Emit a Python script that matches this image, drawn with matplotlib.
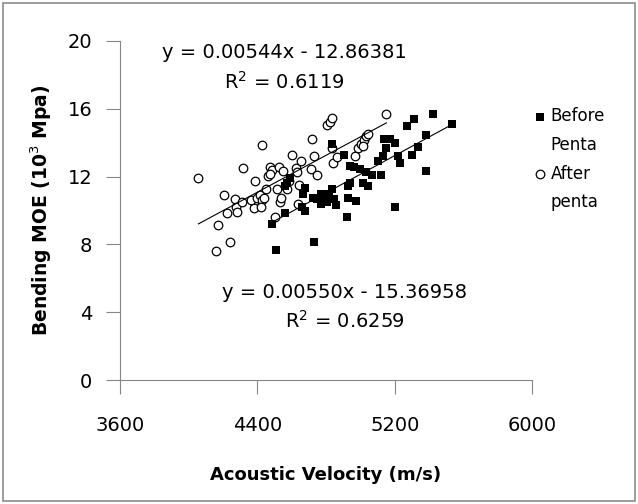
import matplotlib.pyplot as plt
from matplotlib.lines import Line2D
from matplotlib.patches import Rectangle
import numpy as np

plt.rcParams['font.family'] = ['DejaVu Sans']

# Before penta (filled squares)
before_velocity = [5424, 5311, 5270, 5531, 5382, 5334, 5299, 5382, 5140, 5175,
                   5152, 5199, 5133, 5105, 5222, 5229, 5122, 5199, 4832, 4903,
                   4939, 4962, 4998, 5033, 5069, 5017, 5045, 4927, 4939, 4927,
                   4974, 4922, 4832, 4820, 4796, 4773, 4749, 4726, 4773, 4808,
                   4844, 4856, 4678, 4666, 4659, 4678, 4560, 4488, 4507, 4730,
                   4571, 4588, 4560]
before_moe = [15.70, 15.38, 14.97, 15.07, 14.42, 13.76, 13.25, 12.33, 14.23, 14.23,
              13.70, 13.99, 13.21, 12.92, 13.21, 12.82, 12.09, 10.18, 13.89, 13.27,
              12.62, 12.58, 12.43, 12.29, 12.09, 11.59, 11.45, 11.45, 11.59, 10.76,
              10.57, 9.63, 11.25, 10.96, 10.76, 10.96, 10.70, 10.76, 10.37, 10.47,
              10.67, 10.31, 11.35, 10.96, 10.18, 9.98, 9.84, 9.20, 7.67, 8.16,
              11.64, 11.94, 11.45]

# After penta (open circles)
after_velocity = [4057, 4169, 4162, 4240, 4223, 4204, 4270, 4275, 4282, 4313,
                  4318, 4387, 4382, 4382, 4365, 4398, 4417, 4429, 4441, 4424,
                  4429, 4453, 4465, 4476, 4484, 4476, 4505, 4517, 4531, 4536,
                  4524, 4548, 4560, 4571, 4602, 4626, 4631, 4654, 4643, 4638,
                  4718, 4714, 4732, 4749, 4583, 4808, 4825, 4837, 4839, 4863,
                  4837, 4969, 4986, 5005, 5021, 5033, 5045, 5017, 5152]
after_moe = [11.94, 9.16, 7.63, 8.12, 9.82, 10.90, 10.70, 10.18, 9.88, 10.47,
             12.52, 11.74, 10.47, 10.12, 10.61, 10.76, 10.90, 10.61, 10.76, 10.23,
             13.86, 11.25, 12.04, 12.56, 12.37, 12.13, 9.63, 11.25, 10.47, 10.76,
             12.56, 12.33, 11.45, 11.25, 13.25, 12.52, 12.29, 12.92, 11.49, 10.37,
             14.19, 12.43, 13.21, 12.09, 11.74, 15.03, 15.23, 15.42, 12.82, 13.15,
             13.70, 13.21, 13.70, 13.93, 14.13, 14.38, 14.48, 13.78, 15.69]

before_fit = (0.00550, -15.36958)
after_fit = (0.00544, -12.86381)
before_eq = "y = 0.00550x - 15.36958\nR$^2$ = 0.6259"
after_eq = "y = 0.00544x - 12.86381\nR$^2$ = 0.6119"

fig = plt.figure(figsize=(6.38, 5.04), dpi=100)
ax = fig.add_axes([0.188, 0.246, 0.646, 0.673])

sq = ax.scatter(before_velocity, before_moe, marker='s', s=26, c='black',
                linewidths=0, zorder=3)
ci = ax.scatter(after_velocity, after_moe, marker='o', s=38, facecolors='white',
                edgecolors='black', linewidths=0.9, zorder=2)

for xs, (m, b) in [(before_velocity, before_fit), (after_velocity, after_fit)]:
    xx = np.array([min(xs), max(xs)])
    ax.plot(xx, m * xx + b, color='black', lw=0.8, zorder=4)

ax.text(4555, 18.4, after_eq, ha='center', va='center', fontsize=14,
        linespacing=1.45)
ax.text(4910, 4.3, before_eq, ha='center', va='center', fontsize=14,
        linespacing=1.45)

ax.set_xlim(3600, 6000)
ax.set_ylim(0, 20)
ax.set_xticks([3600, 4400, 5200, 6000])
ax.set_yticks([0, 4, 8, 12, 16, 20])
for side in ['top', 'right']:
    ax.spines[side].set_visible(False)
for side in ['left', 'bottom']:
    ax.spines[side].set_color('#868686')
ax.tick_params(direction='out', length=10, color='#868686', labelsize=14)
ax.tick_params(axis='x', pad=16)
ax.tick_params(axis='y', pad=10)

ax.set_xlabel('Acoustic Velocity (m/s)', fontsize=13, fontweight='bold',
              labelpad=22)
ax.set_ylabel('Bending MOE (10$^3$ Mpa)', fontsize=13.5, fontweight='bold',
              labelpad=10)

blank = Line2D([], [], linestyle='none')
ax.legend([sq, blank, ci, blank], ['Before', 'Penta', 'After', 'penta'],
          loc='upper left', bbox_to_anchor=(1.0, 0.805), frameon=False,
          fontsize=12, handlelength=1.0, handletextpad=0.1, labelspacing=0.65,
          borderaxespad=0, borderpad=0)

fig.patches.append(Rectangle((0.005, 0.006), 0.99, 0.988, transform=fig.transFigure,
                             fill=False, ec='#8c8c8c', lw=1.2))

fig.savefig('out.png', dpi=100)
